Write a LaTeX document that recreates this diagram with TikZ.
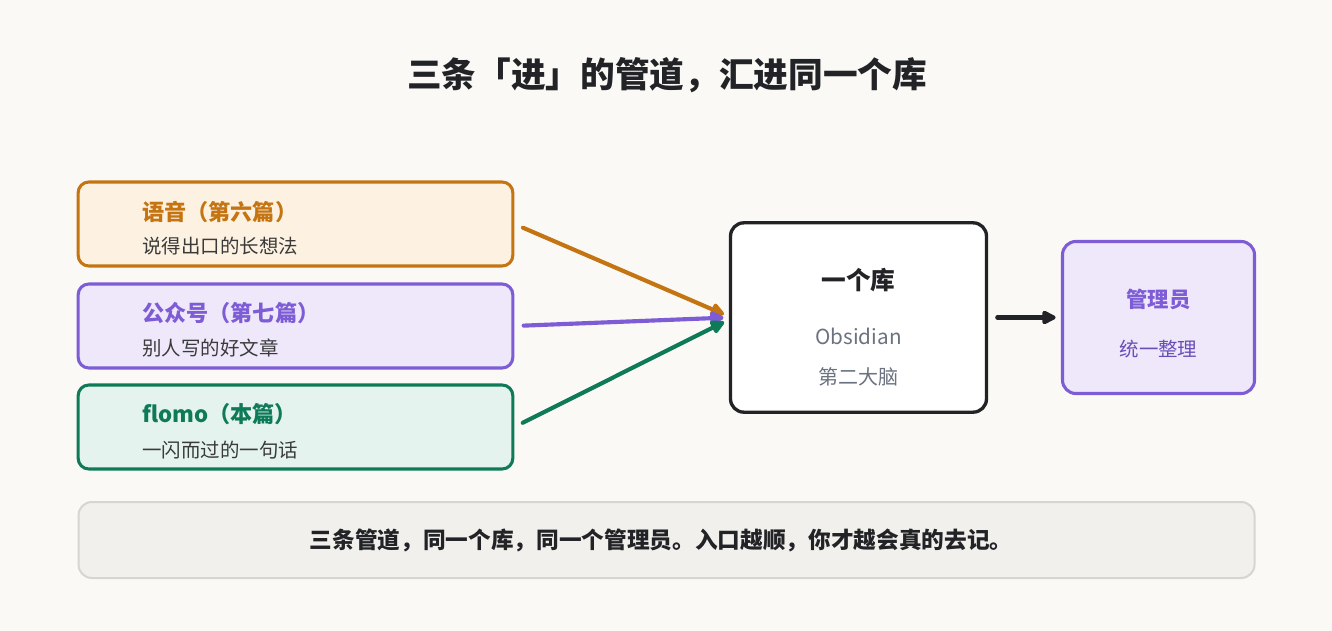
\documentclass[tikz,border=0pt]{standalone}
\usepackage{fontspec}
\setmainfont{Noto Sans CJK SC}
\usetikzlibrary{arrows.meta,positioning,calc}
\definecolor{Paper}{HTML}{FAF9F6}
\definecolor{Ink}{HTML}{222326}
\definecolor{Muted}{HTML}{6B7280}
\definecolor{Body}{HTML}{3A3A3A}
\definecolor{Amber}{HTML}{C47512}
\definecolor{AmberPale}{HTML}{FDF2E2}
\definecolor{Violet}{HTML}{7D5CD6}
\definecolor{VioletPale}{HTML}{EEE8FA}
\definecolor{Jade}{HTML}{0F7A57}
\definecolor{JadePale}{HTML}{E4F3ED}
\definecolor{Stone}{HTML}{F1F0EC}
\definecolor{StoneLine}{HTML}{D7D5CF}
\tikzset{
  srcbox/.style={draw=#1,fill=#1Pale,line width=2.3pt,rounded corners=8pt,minimum width=326pt,minimum height=63pt},
  head/.style={font=\fontsize{16.6}{19}\selectfont\bfseries,text=#1,anchor=west,inner sep=0pt},
  sub/.style={font=\fontsize{14.6}{17}\selectfont,text=Body,anchor=west,inner sep=0pt},
  pipe/.style={-{Triangle[length=12pt,width=11pt,round]},line width=3.1pt,line cap=round,draw=#1,shorten <=7pt,shorten >=4pt},
}

\begin{document}
\begin{tikzpicture}[x=0.75pt,y=-0.75pt,line join=round]
\useasboundingbox[fill=Paper] (0,0) rectangle (1332,631);
\node[font=\fontsize{26}{30}\selectfont\bfseries,text=Ink] (title) at (667,75) {三条「进」的管道，汇进同一个库};
% three inputs
\node[srcbox=Amber] (voice) at (295.5,224) {};
\node[srcbox=Violet] (wechat) at (295.5,326) {};
\node[srcbox=Jade] (flomo) at (295.5,427) {};
\node[head=Amber] (voiceh) at (142,212) {语音（第六篇）};
\node[sub] (voices) at (142,246) {说得出口的长想法};
\node[head=Violet] (wechath) at (142,313) {公众号（第七篇）};
\node[sub] (wechats) at (142,348) {别人写的好文章};
\node[head=Jade] (flomoh) at (142,414) {flomo（本篇）};
\node[sub] (flomos) at (142,450) {一闪而过的一句话};
% the vault and its keeper
\node[draw=Ink,fill=white,line width=2.5pt,rounded corners=10pt,minimum width=192pt,minimum height=142pt] (vault) at (858.5,317.5) {};
\node[font=\fontsize{18.5}{22}\selectfont\bfseries,text=Ink] (vaulth) at (858.5,280) {一个库};
\node[font=\fontsize{15.5}{18}\selectfont,text=Muted] (vaultn) at (858.5,336) {Obsidian};
\node[font=\fontsize{15}{18}\selectfont,text=Muted] (vaults) at (858.5,377) {第二大脑};
\node[draw=Violet,fill=VioletPale,line width=2.3pt,rounded corners=10pt,minimum width=144pt,minimum height=114pt] (keeper) at (1158.5,317.5) {};
\node[font=\fontsize{16}{19}\selectfont\bfseries,text=Violet] (keeperh) at (1158.5,299) {管理员};
\node[font=\fontsize{14.6}{17}\selectfont,text=Violet!85!black] (keepers) at (1158.5,349) {统一整理};
\draw[pipe=Amber] (voice.east) -- ($(vault.west)+(0,-1)$);
\draw[pipe=Violet] (wechat.east) -- (vault.west);
\draw[pipe=Jade] (flomo.east) -- ($(vault.west)+(0,2)$);
\draw[pipe=Ink,line width=3.4pt] (vault.east) -- (keeper.west);
% takeaway
\node[draw=StoneLine,fill=Stone,line width=1.5pt,rounded corners=10pt,minimum width=882pt,minimum height=57pt] (note) at (666.5,540) {};
\node[font=\fontsize{17}{20}\selectfont\bfseries,text=Ink] (notet) at (661,540) {三条管道，同一个库，同一个管理员。入口越顺，你才越会真的去记。};
\end{tikzpicture}
\end{document}
